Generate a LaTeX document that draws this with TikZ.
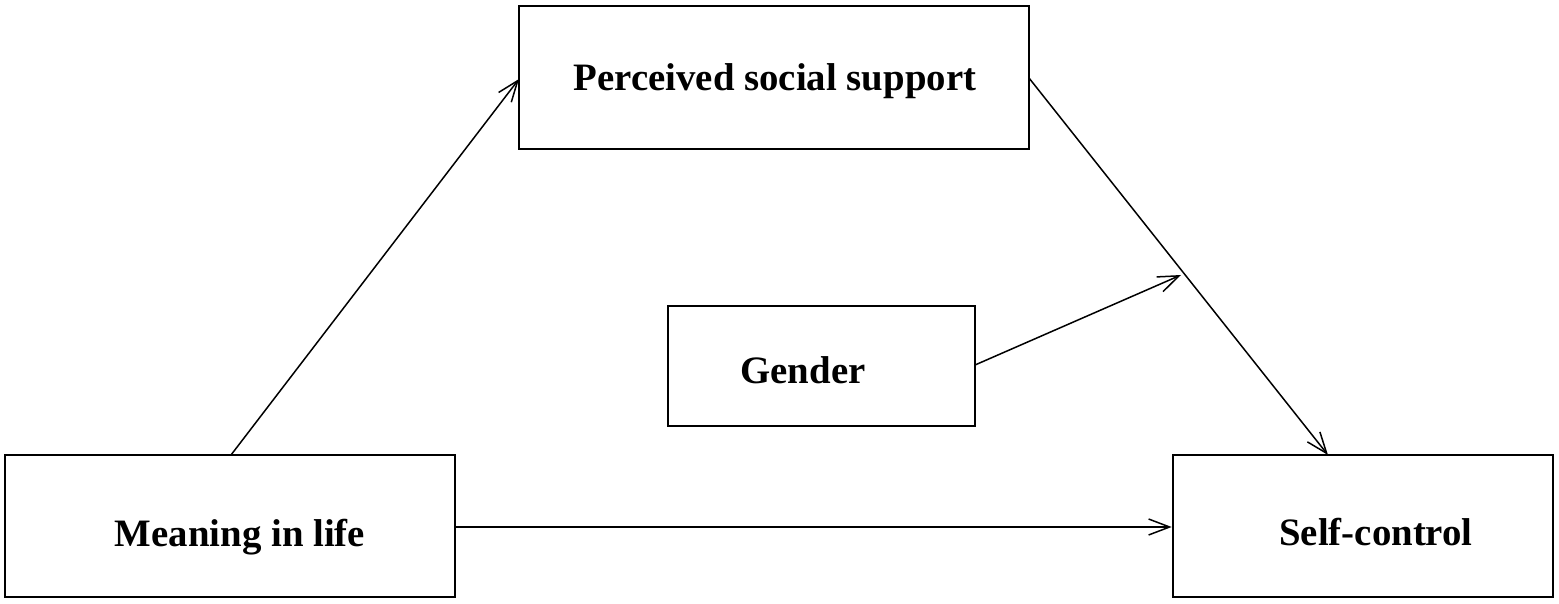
\documentclass[tikz,border=0pt]{standalone}
\usepackage{fontspec}
\setmainfont{Liberation Serif}
\usetikzlibrary{arrows.meta}
\begin{document}
\begin{tikzpicture}[x=1pt,y=-1pt,
  box/.style={draw=black,line width=2.6pt,inner sep=0pt},
  lab/.style={font=\fontsize{38.8}{46}\selectfont\bfseries,inner sep=0pt,anchor=base},
  conn/.style={line width=1.5pt,-{Straight Barb[length=21pt,width=16pt,line width=1.5pt]}}]
\useasboundingbox (0,0) rectangle (1559,604);
\node[box,minimum width=510pt,minimum height=143pt] (pss) at (774,77.5) {};
\node[box,minimum width=307pt,minimum height=120pt] (gen) at (821.5,366) {};
\node[box,minimum width=450pt,minimum height=142pt] (mil) at (230,526) {};
\node[box,minimum width=380pt,minimum height=142pt] (sc) at (1363,526) {};
\node[lab] (tpss) at (775,91) {Perceived social support};
\node[lab] (tgen) at (803,383) {Gender};
\node[lab] (tmil) at (240,546) {Meaning in life};
\node[lab] (tsc) at (1376,545) {Self-control};
\coordinate (mtop) at (231,455);
\coordinate (pleft) at (519,79);
\coordinate (pright) at (1029,78);
\coordinate (stop) at (1328,455);
\coordinate (gtip) at (1181,275);
\coordinate (gright) at (975,365);
\draw[conn] (mtop) -- (pleft);
\draw[conn] (pright) -- (stop);
\draw[conn] (gright) -- (gtip);
\draw[conn] (mil.east |- 0,527) -- (sc.west |- 0,527);
\end{tikzpicture}
\end{document}
